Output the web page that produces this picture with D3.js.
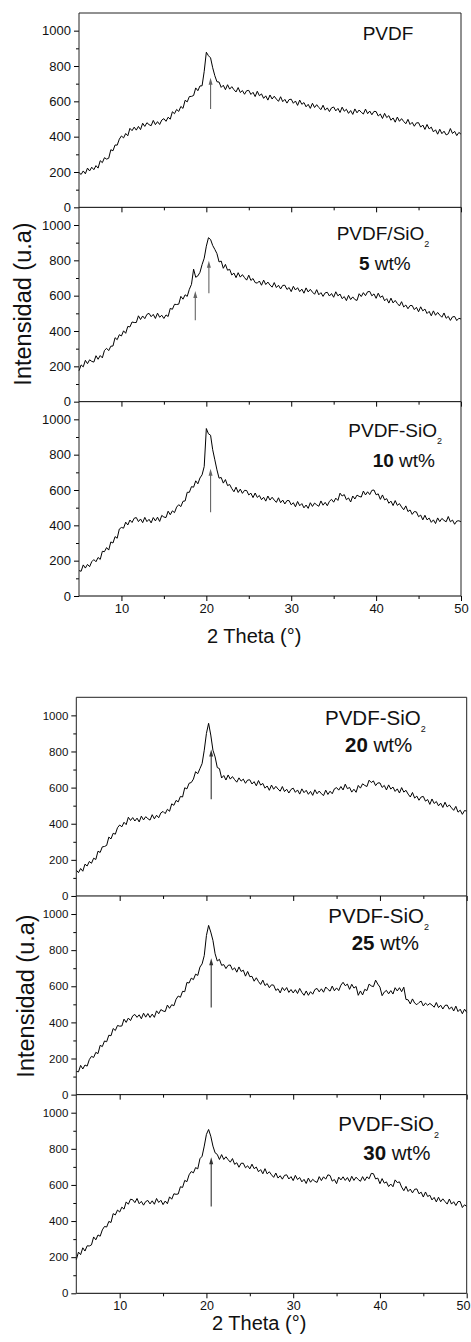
<!DOCTYPE html>
<html>
<head>
<meta charset="utf-8">
<script src="https://cdn.jsdelivr.net/npm/d3@7"></script>
<style>
  body { margin: 0; background: #fff; }
  svg { display: block; font-family: "Liberation Sans", Arial, sans-serif; }
</style>
</head>
<body>
<div id="chart"></div>
<script>
// 2 theta sampling grid (deg), 5 -> 50 every 0.25
var twoTheta = d3.range(181).map(function (i) { return 5 + i * 0.25; });

// intensities, one row per degree (4 points per degree)
var pvdf = [
  197,186,206,190, 222,206,227,213, 236,222,264,253, 281,273,278,326, 320,353,352,386,
  404,393,418,405, 447,434,454,437, 458,440,476,458, 479,468,462,492, 468,485,469,494,
  502,487,510,499, 541,530,554,543, 571,560,606,597, 627,628,633,676, 660,687,688,770,
  878,858,846,790, 745,711,709,679, 691,666,694,669, 683,666,653,678, 650,661,640,660,
  662,639,651,627, 657,632,642,617, 631,607,636,613, 629,613,600,626, 598,611,590,610,
  612,589,602,577, 607,583,593,569, 583,560,589,565, 581,565,553,578, 550,563,542,563,
  568,546,560,537, 567,544,555,532, 548,526,557,535, 551,538,528,556, 530,545,524,543,
  542,517,528,503, 532,508,519,493, 506,482,511,487, 502,486,473,498, 469,481,459,478,
  479,454,466,441, 469,444,454,427, 439,414,442,417, 431,410,416,446, 418,430,406,424,
  414
];
var sio2_5 = [
  175,208,197,234, 215,237,228,224, 260,240,261,248, 290,302,289,314, 315,362,351,379,
  372,401,387,426, 423,451,448,448, 486,465,485,470, 494,500,481,494, 471,501,478,489,
  471,491,482,528, 523,551,550,552, 596,580,605,596, 636,664,750,704, 712,732,776,812,
  880,928,918,884, 862,838,791,796, 755,777,744,749, 717,728,702,730, 705,719,702,688,
  716,686,697,674, 671,683,659,688, 663,677,660,648, 674,646,659,638, 658,659,635,646,
  623,653,632,645, 623,637,614,644, 621,636,620,608, 634,605,617,596, 616,619,598,612,
  591,622,599,609, 583,595,572,602, 578,593,578,573, 611,595,617,600, 622,624,599,610,
  585,614,590,599, 571,583,558,586, 559,573,556,542, 566,536,547,526, 544,544,521,534,
  509,537,514,524, 499,511,486,514, 489,505,490,478, 502,472,483,460, 480,482,459,472,
  468
];
var sio2_10 = [
  144,140,176,158, 179,166,194,206, 194,218,207,253, 251,274,260,306, 300,336,327,379,
  388,384,418,402, 430,416,440,444, 421,436,415,445, 421,434,414,444, 425,446,422,456,
  447,444,480,460, 482,472,503,517, 506,536,538,587, 587,619,616,652, 635,668,686,733,
  948,918,910,828, 771,714,667,671, 639,659,625,631, 608,590,616,586, 605,581,598,597,
  572,582,557,583, 558,569,545,559, 537,566,543,559, 543,530,556,528, 543,521,540,540,
  516,528,505,535, 511,523,499,515, 496,528,507,526, 516,508,538,514, 530,511,536,547,
  531,554,541,582, 566,574,545,555, 532,566,549,571, 564,560,594,572, 590,574,598,600,
  573,578,547,572, 544,551,525,537, 512,540,513,523, 504,488,510,478, 487,462,478,476,
  449,458,431,457, 431,441,417,431, 410,442,421,439, 428,420,450,420, 430,406,424,426,
  420
];
var sio2_20 = [
  143,129,152,137, 176,166,191,181, 209,202,248,241, 272,274,280,326, 316,347,342,378,
  393,383,408,395, 436,418,434,415, 431,410,442,421, 439,428,420,450, 427,447,433,460,
  468,456,480,469, 510,502,529,521, 551,548,599,593, 624,628,647,688, 677,705,733,807,
  900,956,891,807, 770,711,705,653, 667,642,670,647, 661,644,630,654, 636,647,624,642,
  643,620,633,610, 639,614,623,597, 609,585,614,591, 607,592,580,606, 578,591,570,590,
  597,574,587,564, 593,572,585,563, 579,557,588,566, 581,566,556,586, 562,580,566,593,
  600,586,606,587, 619,594,601,575, 591,574,612,597, 621,612,606,641, 628,637,611,626,
  626,601,612,587, 615,592,603,579, 593,570,600,575, 585,564,548,573, 542,553,530,548,
  551,525,534,507, 537,512,523,499, 514,490,519,493, 504,488,474,496, 464,475,452,473,
  470
];
var sio2_25 = [
  129,126,162,142, 164,158,194,212, 206,234,227,273, 266,297,293,329, 326,366,355,383,
  379,380,418,400, 424,410,436,444, 428,442,420,451, 429,449,427,446, 428,464,448,471,
  463,460,496,478, 498,492,528,546, 539,572,570,621, 618,645,637,667, 660,706,724,770,
  881,937,900,854, 780,740,749,716, 720,698,716,718, 691,702,678,707, 682,689,656,682,
  653,655,628,647, 626,610,634,604, 615,592,608,606, 577,586,563,593, 576,593,566,582,
  563,581,560,588, 566,550,574,550, 570,556,582,588, 569,586,567,596, 583,573,601,575,
  591,576,606,622, 603,612,583,611, 590,599,550,574, 552,583,576,612, 602,598,634,612,
  595,548,568,577, 558,576,557,592, 574,592,570,595, 527,525,502,530, 507,498,510,518,
  491,507,495,505, 496,484,510,482, 495,474,494,496, 473,486,463,490, 460,473,448,473,
  456
];
var sio2_30 = [
  186,228,214,252, 234,263,262,268, 312,296,323,316, 351,370,367,398, 392,441,434,461,
  450,477,466,506, 493,521,518,502, 525,496,509,488, 508,514,495,512, 493,525,503,515,
  491,511,496,534, 521,551,548,550, 590,586,625,618, 656,674,667,696, 689,745,759,815,
  880,907,870,815, 778,769,741,768, 741,756,740,726, 746,714,723,698, 720,720,695,706,
  689,715,690,699, 673,685,662,690, 661,673,656,642, 666,638,651,632, 653,656,633,646,
  624,653,630,641, 617,631,608,638, 615,631,620,614, 646,624,645,632, 656,652,621,630,
  607,643,628,645, 625,641,618,648, 625,643,630,620, 646,624,645,634, 664,662,633,638,
  607,635,610,617, 591,605,590,628, 613,617,588,568, 592,564,577,556, 576,578,551,560,
  533,561,536,543, 517,531,506,532, 507,523,508,494, 522,494,507,486, 508,508,475,490,
  481
];

var series = [pvdf, sio2_5, sio2_10, sio2_20, sio2_25, sio2_30];
var sampleNames = ["PVDF", "PVDF/SiO", "PVDF-SiO", "PVDF-SiO", "PVDF-SiO", "PVDF-SiO"];
var loadings = [null, "5", "10", "20", "25", "30"];

var yTicks = [0, 200, 400, 600, 800, 1000];
var yMinor = [100, 300, 500, 700, 900];
var xTicks = [10, 20, 30, 40, 50];
var xMinor = [15, 25, 35, 45];

// arrows: [panel, 2theta, from intensity, to intensity]
var arrows = [
  [0, 20.5, 557, 733],
  [1, 18.7, 461, 626],
  [1, 20.3, 613, 797],
  [2, 20.5, 474, 720],
  [3, 20.55, 535, 811],
  [4, 20.55, 483, 755],
  [5, 20.55, 481, 753]
];

// two stacked figures, three panels each
var figures = [
  { panels: [0, 1, 2], left: 79, right: 461, top: 13, bottom: 596,
    yFont: 13, xFont: 13, nameFont: 19, arrowColor: "#666",
    names: [[283.7, 27], [257.7, 32.7], [269.3, 35.6]],
    loads: [null, [280, 62.7], [293.7, 65.3]],
    yTitle: [31, 304], xTitle: [207, 643] },
  { panels: [3, 4, 5], left: 76.3, right: 466.7, top: 697.3, bottom: 1293.3,
    yFont: 11.5, xFont: 12.5, nameFont: 20.5, arrowColor: "#333",
    names: [[248.7, 27.7], [252, 27.3], [262, 36]],
    loads: [[268.7, 54.4], [275.4, 54], [287, 65.3]],
    yTitle: [34, 996], xTitle: [212, 1330] }
];

var svg = d3.select("#chart").append("svg")
  .attr("width", 471)
  .attr("height", 1342);

figures.forEach(function (fig) {
  var g = svg.append("g");
  var ph = (fig.bottom - fig.top) / 3;

  var x = d3.scaleLinear().domain([5, 50]).range([fig.left, fig.right]);

  fig.panels.forEach(function (p, k) {
    var top = fig.top + k * ph;
    var bottom = top + ph;
    var y = d3.scaleLinear().domain([0, 1100]).range([bottom, top]);
    var last = k === 2;

    // curve
    var line = d3.line()
      .x(function (d, i) { return x(twoTheta[i]); })
      .y(function (d) { return y(d); });
    g.append("path")
      .datum(series[p])
      .attr("fill", "none")
      .attr("stroke", "#000")
      .attr("stroke-width", 1)
      .attr("stroke-linejoin", "round")
      .attr("d", line);

    // left axis
    var ya = g.append("g")
      .attr("transform", "translate(" + fig.left + ",0)")
      .call(d3.axisLeft(y).tickValues(yTicks).tickSize(5).tickSizeOuter(0).tickPadding(3)
        .tickFormat(d3.format("d")));
    ya.select(".domain").remove();
    ya.selectAll("text").style("font-size", fig.yFont + "px").attr("fill", "#111");
    g.append("g")
      .attr("transform", "translate(" + fig.left + ",0)")
      .call(d3.axisLeft(y).tickValues(yMinor).tickSize(3).tickFormat(""))
      .select(".domain").remove();

    // bottom axis (ticks point down into the next panel)
    var xa = g.append("g")
      .attr("transform", "translate(0," + bottom + ")")
      .call(d3.axisBottom(x).tickValues(xTicks).tickSize(5).tickSizeOuter(0).tickPadding(3)
        .tickFormat(last ? d3.format("d") : ""));
    xa.select(".domain").remove();
    xa.selectAll("text").style("font-size", fig.xFont + "px").attr("fill", "#111");
    // keep the "50" label on the page when the axis ends at the edge
    xa.selectAll(".tick text").filter(function (d) { return d === 50 && x(50) > 462; })
      .attr("text-anchor", "end").attr("x", 470 - x(50));
    g.append("g")
      .attr("transform", "translate(0," + bottom + ")")
      .call(d3.axisBottom(x).tickValues(xMinor).tickSize(3).tickFormat(""))
      .select(".domain").remove();

    g.append("line")
      .attr("x1", fig.left).attr("x2", fig.right)
      .attr("y1", bottom).attr("y2", bottom)
      .attr("stroke", "#000");

    // arrows
    arrows.filter(function (a) { return a[0] === p; }).forEach(function (a) {
      var ax = x(a[1]), y0 = y(a[2]), y1 = y(a[3]);
      g.append("line")
        .attr("x1", ax).attr("x2", ax)
        .attr("y1", y0).attr("y2", y1 + 5)
        .attr("stroke", fig.arrowColor).attr("stroke-width", 1.1);
      g.append("path")
        .attr("d", "M" + ax + "," + y1 + "L" + (ax - 2) + "," + (y1 + 7) + "L" + (ax + 2) + "," + (y1 + 7) + "Z")
        .attr("fill", fig.arrowColor);
    });

    // sample label
    var nm = fig.names[k];
    var t = g.append("text")
      .attr("x", fig.left + nm[0])
      .attr("y", top + nm[1])
      .style("font-size", fig.nameFont + "px")
      .attr("fill", "#111");
    t.append("tspan").text(sampleNames[p]);
    if (p > 0) {
      t.append("tspan").attr("dy", 7).style("font-size", "9px").text("2");
    }
    var ld = fig.loads[k];
    if (ld) {
      var t2 = g.append("text")
        .attr("x", fig.left + ld[0])
        .attr("y", top + ld[1])
        .style("font-size", fig.nameFont + "px")
        .attr("fill", "#111");
      t2.append("tspan").style("font-weight", "bold").text(loadings[p]);
      t2.append("tspan").text(" wt%");
    }
  });

  // frame: left, top and right edges
  g.append("path")
    .attr("d", "M" + fig.left + "," + fig.bottom + "V" + fig.top + "H" + fig.right + "V" + fig.bottom)
    .attr("fill", "none")
    .attr("stroke", "#222");

  // axis titles
  g.append("text")
    .attr("transform", "translate(" + fig.yTitle[0] + "," + fig.yTitle[1] + ") rotate(-90)")
    .attr("text-anchor", "middle")
    .style("font-size", "23.5px")
    .attr("fill", "#111")
    .text("Intensidad (u.a)");

  g.append("text")
    .attr("x", fig.xTitle[0])
    .attr("y", fig.xTitle[1])
    .style("font-size", "20px")
    .attr("fill", "#111")
    .text("2 Theta (°)");
});
</script>
</body>
</html>
